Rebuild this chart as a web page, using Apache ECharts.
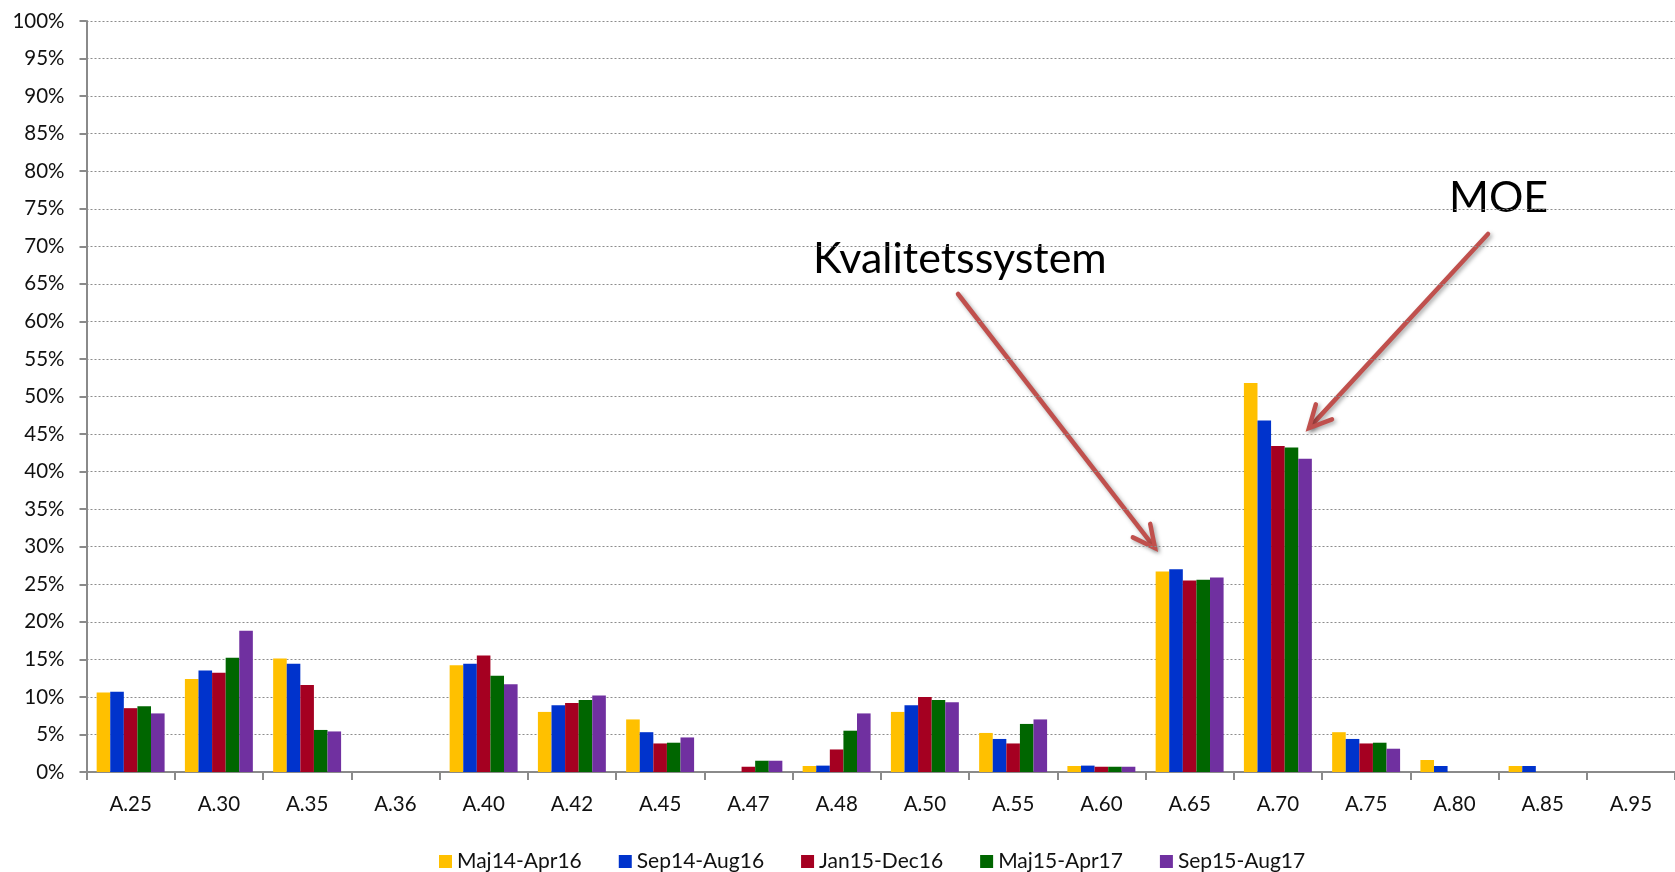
<!DOCTYPE html>
<html><head><meta charset="utf-8">
<script src="https://cdn.jsdelivr.net/npm/echarts@6/dist/echarts.min.js"></script>
<style>html,body{margin:0;padding:0;background:#fff}#c{width:1675px;height:872px}</style>
</head><body><div id="c"></div>
<script>
var categories = ['A.25','A.30','A.35','A.36','A.40','A.42','A.45','A.47','A.48','A.50','A.55','A.60','A.65','A.70','A.75','A.80','A.85','A.95'];
var seriesNames = ['Maj14-Apr16','Sep14-Aug16','Jan15-Dec16','Maj15-Apr17','Sep15-Aug17'];
var maj14 = [10.6,12.4,15.1,0,14.2,8.0,7.0,0,0.8,8.0,5.2,0.8,26.7,51.8,5.3,1.6,0.8,0];
var sep14 = [10.7,13.5,14.4,0,14.4,8.9,5.3,0,0.85,8.9,4.4,0.85,27.0,46.8,4.4,0.8,0.8,0];
var jan15 = [8.5,13.2,11.6,0,15.5,9.2,3.8,0.7,3.0,10.0,3.8,0.7,25.5,43.4,3.8,0,0,0];
var maj15 = [8.75,15.2,5.6,0,12.8,9.6,3.9,1.5,5.5,9.6,6.4,0.7,25.6,43.2,3.9,0,0,0];
var sep15 = [7.8,18.8,5.4,0,11.7,10.2,4.6,1.5,7.8,9.3,7.0,0.7,25.9,41.7,3.1,0,0,0];
var colors = ['#FFC000','#0033CC','#A50021','#006600','#7030A0'];
var annotations = [
  {text:'Kvalitetssystem', x:813, y:259, from:[958,294], to:[1155,548]},
  {text:'MOE', x:1449, y:198, from:[1488,234], to:[1309,428]}
];

var allData = [maj14, sep14, jan15, maj15, sep15];
var FONT = 'Lato';

var series = allData.map(function(d,i){
  return {name:seriesNames[i], type:'bar', data:d, barGap:'0%', barCategoryGap:'23%',
    itemStyle:{color:colors[i]}};
});

var graphics = [];
var arrowColor = '#C0504D';
var shadow = {shadowBlur:4, shadowColor:'rgba(0,0,0,0.35)', shadowOffsetX:2, shadowOffsetY:2};
annotations.forEach(function(a){
  graphics.push({type:'text', x:a.x, y:a.y, style:{text:a.text, fill:'#000', font:'43px '+FONT, verticalAlign:'middle', align:'left'}});
  var dx=a.to[0]-a.from[0], dy=a.to[1]-a.from[1], L=Math.sqrt(dx*dx+dy*dy);
  var ux=dx/L, uy=dy/L, nx=-uy, ny=ux, hl=22, hw=11;
  var w1=[a.to[0]-hl*ux+hw*nx, a.to[1]-hl*uy+hw*ny];
  var w2=[a.to[0]-hl*ux-hw*nx, a.to[1]-hl*uy-hw*ny];
  graphics.push({type:'line', shape:{x1:a.from[0],y1:a.from[1],x2:a.to[0]-1.5*ux,y2:a.to[1]-1.5*uy},
    style:Object.assign({stroke:arrowColor, lineWidth:4.5, lineCap:'round'}, shadow)});
  graphics.push({type:'polyline', shape:{points:[w1,a.to,w2]},
    style:Object.assign({stroke:arrowColor, lineWidth:4.5, fill:null, lineCap:'round', lineJoin:'miter'}, shadow)});
});

var chart = echarts.init(document.getElementById('c'), null, {renderer:'canvas'});
chart.setOption({
  animation:false,
  backgroundColor:'#fff',
  color:colors,
  grid:{left:86.5, right:-13, top:21, bottom:100, containLabel:false},
  legend:{data:seriesNames, left:434, top:846, itemWidth:13, itemHeight:13, itemGap:37, icon:'rect',
    textStyle:{fontFamily:FONT, fontSize:21, color:'#111'}},
  xAxis:{type:'category', data:categories,
    axisLine:{lineStyle:{color:'#8a8a8a', width:2}},
    axisTick:{show:true, length:8, lineStyle:{color:'#8a8a8a', width:2}},
    axisLabel:{margin:22, fontFamily:FONT, fontSize:20.5, color:'#111', interval:0}},
  yAxis:{type:'value', min:0, max:100, interval:5,
    axisLine:{show:true, lineStyle:{color:'#8a8a8a', width:2}},
    axisTick:{show:true, length:7, lineStyle:{color:'#8a8a8a', width:2}},
    axisLabel:{margin:22, fontFamily:FONT, fontSize:20.5, color:'#111', formatter:'{value}%'},
    splitLine:{lineStyle:{color:'#8c8c8c', type:[2,2], width:1}}},
  series:series,
  graphic:graphics
});
</script></body></html>
